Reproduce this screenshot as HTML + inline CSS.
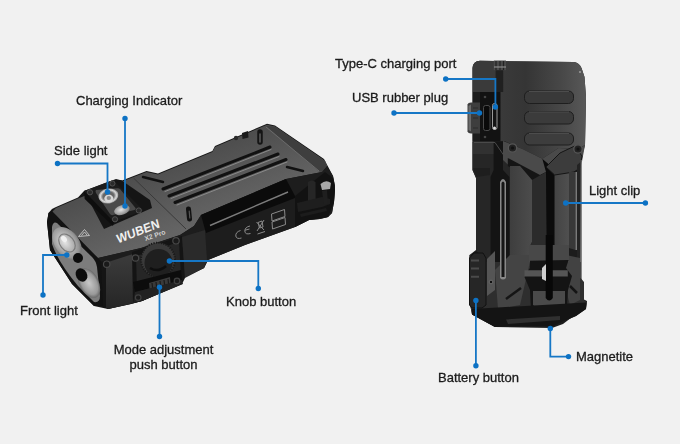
<!DOCTYPE html>
<html><head><meta charset="utf-8">
<style>
html,body{margin:0;padding:0;}
body{width:680px;height:444px;overflow:hidden;background:#f1f1f1;position:relative;font-family:"Liberation Sans",sans-serif;}
svg{position:absolute;left:0;top:0;}
.t{position:absolute;font-size:13px;line-height:15px;color:#1b1b1b;white-space:nowrap;-webkit-text-stroke:0.3px #1b1b1b;will-change:transform;}
</style></head><body>
<svg width="680" height="444" viewBox="0 0 680 444">
<defs>
<linearGradient id="topG" gradientUnits="userSpaceOnUse" x1="150" y1="150" x2="180" y2="230">
<stop offset="0" stop-color="#474747"/><stop offset="1" stop-color="#646464"/>
</linearGradient>
<radialGradient id="lensW" cx="0.45" cy="0.45" r="0.6">
<stop offset="0" stop-color="#e6e6e6"/><stop offset="0.35" stop-color="#c0c0c0"/><stop offset="0.8" stop-color="#939393"/><stop offset="1" stop-color="#6a6a6a"/>
</radialGradient>
<radialGradient id="lensG" cx="0.5" cy="0.5" r="0.55">
<stop offset="0" stop-color="#c8c8c8"/><stop offset="0.7" stop-color="#9a9a9a"/><stop offset="1" stop-color="#555"/>
</radialGradient>
<linearGradient id="panelG" gradientUnits="userSpaceOnUse" x1="0" y1="258" x2="0" y2="308">
<stop offset="0" stop-color="#3a3a3a"/><stop offset="1" stop-color="#262626"/>
</linearGradient>
<radialGradient id="refl" cx="0.5" cy="0.5" r="0.5">
<stop offset="0" stop-color="#555"/><stop offset="0.55" stop-color="#6a6a6a"/><stop offset="0.8" stop-color="#d8d8d8"/><stop offset="1" stop-color="#9a9a9a"/>
</radialGradient>
<linearGradient id="houseG" gradientUnits="userSpaceOnUse" x1="500" y1="0" x2="586" y2="0">
<stop offset="0" stop-color="#3a3a3a"/><stop offset="0.3" stop-color="#353535"/><stop offset="0.7" stop-color="#474747"/><stop offset="1" stop-color="#585858"/>
</linearGradient>
<linearGradient id="midG" gradientUnits="userSpaceOnUse" x1="510" y1="0" x2="532" y2="0">
<stop offset="0" stop-color="#3e3e3e"/><stop offset="1" stop-color="#4c4c4c"/>
</linearGradient>
<linearGradient id="prongG" gradientUnits="userSpaceOnUse" x1="555" y1="0" x2="572" y2="0">
<stop offset="0" stop-color="#444"/><stop offset="1" stop-color="#525252"/>
</linearGradient>
</defs>

<!-- LEFT FLASHLIGHT -->
<g id="left">
<!-- silhouette -->
<path d="M47,222 L48.5,213 L52,209 L56,207 L78,197.5 L84,191 L116,179 L122,180.6 L146.5,171 L158,173.5 L212.4,151 L215,146 L267,123.8 L275,125.5 L324,159 L333,176 L335,186 L334,202 L332,213 L328,217 L320,219 L309,220 L295,227 L245,245 L208,260 L204,268 L183,278 L182,284 L142,301 L131,304 L108,309 L94,306 L72,284 L50,250 Z" fill="#161616"/>
<!-- top face -->
<path d="M52,212 L56,208 L78,198.5 L122,181.5 L146.5,172 L158,174.5 L212.4,152 L215,147 L267,124.8 L275,126.5 L325,161 L327,166 L322,172 L286,179 L201,215 L194,226 L180,235 L141,248 L98,258 L52,220 Z" fill="url(#topG)"/>
<path d="M266,126 L275,126.5 L325,161 L327,166 L322,172 L319,171.5 Z" fill="#3e3e3e"/>
<path d="M266,127 L319,171" stroke="#6a6a6a" stroke-width="1"/>
<path d="M133.5,178 L186,229" stroke="#3a3a3a" stroke-width="1"/>
<!-- slots -->
<g stroke-linecap="round">
<path d="M163,189 L270,147" stroke="#111" stroke-width="3"/>
<path d="M165,191.5 L271,149.5" stroke="#8a8a8a" stroke-width="1"/>
<path d="M169,196 L278,154" stroke="#111" stroke-width="3"/>
<path d="M171,198.5 L279,156.5" stroke="#8a8a8a" stroke-width="1"/>
<path d="M175,202.5 L286,159.5" stroke="#111" stroke-width="3"/>
<path d="M177,205 L287,162" stroke="#8a8a8a" stroke-width="1"/>
<path d="M143,177 L163,182" stroke="#111" stroke-width="2.5"/>
<path d="M287,167 L303,171" stroke="#111" stroke-width="2.5"/>
<path d="M188.5,209 L189.5,219" stroke="#111" stroke-width="5"/>
<path d="M189.2,211 L189.8,218" stroke="#555" stroke-width="1.2"/>
<path d="M260,132 L260,142" stroke="#151515" stroke-width="5.5"/>
<path d="M260,134 L260,142" stroke="#5a5a5a" stroke-width="1.5"/>
<path d="M242,133 L248,131 L248.5,137.5 L242.5,139 Z" fill="#1a1a1a" stroke="none"/>
<circle cx="236" cy="138" r="2.2" fill="#2a2a2a" stroke="none"/>
</g>
<!-- side face -->
<path d="M98,258 L141,248 L180,235 L194,226 L201,215 L286,179 L322,172 L327,166 L333,176 L335,186 L334,202 L332,213 L328,217 L320,219 L309,220 L295,227 L245,245 L208,260 L204,268 L183,278 L182,284 L142,301 L131,304 L108,309 L103,306 Z" fill="#1d1d1d"/>
<!-- strip -->
<path d="M201,215 L286,179 L295,196 L295,198 L206,233 Z" fill="#0b0b0b"/>
<path d="M210,225.5 L288,192" stroke="#7c7c7c" stroke-width="1.4"/>
<!-- CE marks -->
<g fill="none" stroke="#8a8a8a" stroke-width="1">
<path d="M240.5,230.5 Q235.5,232 235.8,236 Q236.5,239.5 241.5,238"/>
<path d="M250,226 Q245,227 244.8,231 Q245,235 250.5,233.5 M245,230.2 L249.5,229"/>
<path d="M256.5,222 L264,230 M264,220 L257,231 M258,222.5 L262,221 L263,227 L259.5,228 Z M257.5,234 L265,231.5"/>
<path d="M271.5,214 L284.5,209.5 L285,216.5 L272,221 Z M272,222 L285,217.5 L285.5,224.5 L272.5,229 Z"/>
</g>
<!-- rear details -->
<path d="M295,196 L325,172 L333,178 L335,190 L334,202 L328,217 L309,220 L295,227 Z" fill="#121212"/>
<path d="M308,182 Q311.5,179 315.5,182 L315.7,202 L308,204 Z" fill="#262626"/>
<path d="M297,203 L322,197 L330,199 L330,204 L322,207 L298,212 Z" fill="#1e1e1e"/>
<path d="M300,214 L326,208 L327,211 L301,217 Z" fill="#1c1c1c"/>
<path d="M320.5,184 Q326,179 331,183 L330,189 L322,190 Z" fill="#a8a8a8"/>
<path d="M322,191 L324,205 L328,204 L327,190 Z" fill="#1f1f1f"/>
<!-- front lens bezel -->
<path d="M47,222 L48.5,213 L52,211 L98,258 L104,264 L104,306 L94,306 L72,284 L50,250 Z" fill="#121212"/>
<path d="M52,227 Q53,221 57,223 L92,257 Q96,261 97,267 L100,296 Q100,303 94,302 L78,286 Q58,262 52,244 Z" fill="#7c7c7c"/>
<ellipse cx="67" cy="243" rx="12" ry="18" transform="rotate(-38 67 243)" fill="url(#lensW)"/>
<ellipse cx="67" cy="243" rx="7" ry="10" transform="rotate(-38 67 243)" fill="none" stroke="#7a7a7a" stroke-width="1.2"/>
<ellipse cx="64" cy="239" rx="2.5" ry="3.5" transform="rotate(-38 64 239)" fill="#f0f0f0"/>
<ellipse cx="89" cy="283" rx="9.5" ry="16" transform="rotate(-28 89 283)" fill="url(#lensG)"/>
<circle cx="78" cy="258" r="5" fill="#0c0c0c"/>
<ellipse cx="81.5" cy="275" rx="5.5" ry="7" transform="rotate(-30 81.5 275)" fill="#0c0c0c"/>
<path d="M78.5,236.5 L84.5,229.5 L89.5,235.5 Z M81.5,235.5 L84.5,232 L87,235" fill="none" stroke="#c8c8c8" stroke-width="0.9"/>
<!-- logo -->
<g transform="translate(118,243.5) rotate(-21) skewX(-6)"><text x="0" y="0" font-family="Liberation Sans" font-weight="bold" font-size="12.5" fill="#f0f0f0" letter-spacing="0.1" transform="scale(0.95,1)">WUBEN</text></g>
<g transform="translate(145.5,241) rotate(-19)"><text x="0" y="0" font-family="Liberation Sans" font-weight="bold" font-size="6.8" fill="#d0d0d0">X2 Pro</text></g>
<!-- side light box -->
<path d="M104,229 L152,208 L150,200 L121,180 L84,191 Z" fill="#151515"/>
<path d="M84,191 L113,180 L143.5,210.5 L113.8,222 Z" fill="#1c1c1c"/>
<path d="M84,191 L84.7,199 L113,226 L113.8,222 Z" fill="#0e0e0e"/>
<path d="M96,190 Q95,191 96,193 L110,214 Q111,215.5 113,215 L134.5,210 Q136.5,209.5 135.5,208 L120,189 Q119,188 117,188.3 Z" fill="#4a4a4a"/>
<ellipse cx="108.4" cy="196" rx="10" ry="7.5" transform="rotate(-10 108.4 196)" fill="url(#refl)"/>
<ellipse cx="108.8" cy="198.5" rx="4.5" ry="4" fill="#d8d8d8"/>
<ellipse cx="108.8" cy="198" rx="2.2" ry="2" fill="#8a8a8a"/>
<ellipse cx="122" cy="210" rx="8" ry="4.8" transform="rotate(-18 122 210)" fill="url(#lensW)"/>
<circle cx="90" cy="192.3" r="2.6" fill="#2a2a2a" stroke="#5a5a5a" stroke-width="0.8"/>
<circle cx="112.4" cy="183.5" r="2.6" fill="#2a2a2a" stroke="#5a5a5a" stroke-width="0.8"/>
<circle cx="138.8" cy="210.5" r="2.6" fill="#2a2a2a" stroke="#5a5a5a" stroke-width="0.8"/>
<circle cx="115" cy="219.3" r="2.6" fill="#2a2a2a" stroke="#5a5a5a" stroke-width="0.8"/>
<!-- knob module -->
<path d="M102,264 L133,254 L133,303 L108,309 L104,306 Z" fill="url(#panelG)"/>
<path d="M101,262 L106,260 L106,308 L103,306 Z" fill="#151515"/>
<circle cx="106.7" cy="264.2" r="3.2" fill="#1a1a1a" stroke="#484848" stroke-width="1.2"/>
<path d="M132,252 L182,236 L185,278 L183,282 L142,301 L133,303 Z" fill="#141414"/>
<path d="M136,256 L179,242 L181,276 L137,290 Z" fill="#262626"/>
<path d="M182,237 L205,230 L207,260 L204,268 L185,278 Z" fill="#2a2a2a"/>
<circle cx="158" cy="259.7" r="17" fill="#3a3a3a"/>
<circle cx="158" cy="259.7" r="17" fill="none" stroke="#1a1a1a" stroke-width="2" stroke-dasharray="1.2 1.3"/>
<circle cx="158.5" cy="263" r="14" fill="#1f1f1f"/>
<path d="M150,268 Q158,273 166,266" stroke="#0e0e0e" stroke-width="2.5" fill="none"/>
<path d="M133,282 L181,270 L182,280 L135,292 Z" fill="#0c0c0c"/>
<path d="M149,283 L170,277 L171,288 L150,292 Z" fill="#3a3a3a"/>
<path d="M152,283 L153,291 M156,282 L157,290 M160,281 L161,289 M164,280 L165,288 M168,279 L169,287" stroke="#1a1a1a" stroke-width="1.2"/>
<path d="M135,292 L182,280 L183,284 L142,301 L133,303 Z" fill="#222"/>
<circle cx="135.5" cy="258" r="3.2" fill="#1a1a1a" stroke="#484848" stroke-width="1.2"/>
<circle cx="176" cy="240.8" r="3.2" fill="#1a1a1a" stroke="#484848" stroke-width="1.2"/>
<circle cx="138.2" cy="297.6" r="2.8" fill="#1a1a1a" stroke="#404040" stroke-width="1.2"/>
<circle cx="177" cy="281" r="2.8" fill="#1a1a1a" stroke="#404040" stroke-width="1.2"/>
</g>
<!-- RIGHT FLASHLIGHT -->
<g id="right">
<!-- silhouette -->
<path d="M472.5,68 Q473,61 480,60.8 L573.5,62 Q579,62.5 581.5,68 L584.5,77 L586,97 L585,145 L581,160 L580,290 L582,298.5 L587,301 L586,308 L573.5,316 L563,324 L552,328 L495,327 L472,314.6 L470.5,306.5 L469.5,255 L476,250 L476,178 L472.5,170 L472.5,141.5 Z" fill="#1c1c1c"/>
<!-- upper housing -->
<path d="M472.5,68 Q473,61 480,60.8 L573.5,62 Q579,62.5 581.5,68 L584.5,77 L586,97 L585,145 L578,149 L558.5,148 L542.3,158.8 L522.4,148.9 L504.4,141 L472.5,141 Z" fill="url(#houseG)"/>
<path d="M473,92 L480,92 L480,141 L473,141 Z" fill="#1c1c1c"/>
<path d="M495.6,70 L503.2,70 L503.2,92 L495.6,92 Z" fill="#202020"/>
<path d="M493.7,60.5 L506,60.5 L506,70.2 L493.7,70.2 Z" fill="#4a4a4a"/>
<path d="M496,61 L496,70 M500,61 L500,70 M503.5,61 L503.5,70" stroke="#222" stroke-width="1.2"/>
<path d="M494,67 L506,67" stroke="#8a8a8a" stroke-width="1.2"/>
<circle cx="580" cy="72" r="1.1" fill="#999"/>
<!-- ribs -->
<rect x="524.5" y="91" width="49" height="12.5" rx="5" fill="#393939" stroke="#1e1e1e" stroke-width="1"/>
<path d="M529,91.5 L569,91.5" stroke="#4c4c4c" stroke-width="1"/>
<rect x="524.5" y="111.5" width="49" height="12.5" rx="5" fill="#3b3b3b" stroke="#1e1e1e" stroke-width="1"/>
<path d="M529,112 L569,112" stroke="#4c4c4c" stroke-width="1"/>
<rect x="524.5" y="133" width="49" height="12" rx="5" fill="#3d3d3d" stroke="#1e1e1e" stroke-width="1"/>
<path d="M529,133.5 L569,133.5" stroke="#4c4c4c" stroke-width="1"/>
<!-- port area -->
<path d="M480,92 L500.5,92 L500.5,142 L480,142 Z" fill="#121212"/>
<path d="M467.5,104.5 Q468,102.5 471,102.5 L480,102.5 L480,133.5 L471,133.5 Q468,133.5 467.5,131.5 Z" fill="#3e3e3e"/>
<path d="M468.5,106 L471,104.5 L471,131.5 L468.5,130 Z" fill="#6a6a6a"/>
<path d="M473,108 L478,108 M473,118 L478,118 M473,128 L478,128" stroke="#2a2a2a" stroke-width="1"/>
<rect x="483.5" y="105.5" width="6.5" height="25" rx="2" fill="#0a0a0a" stroke="#4a4a4a" stroke-width="1"/>
<rect x="492.5" y="103.5" width="4.5" height="26" rx="2" fill="#141414" stroke="#9a9a9a" stroke-width="1"/>
<circle cx="494.5" cy="128" r="1.5" fill="#ddd"/>
<circle cx="485" cy="97" r="1.3" fill="#444"/><circle cx="485" cy="137" r="1.3" fill="#444"/>
<!-- left rail -->
<path d="M472.5,141.5 L503,141.5 L510,162 L510,262 L485,262 L476,250 L476,178 L472.5,170 Z" fill="#262626"/>
<path d="M473,168 L490,168 L490,175 L476.5,177 Z" fill="#1e1e1e"/>
<path d="M473,141.5 L494,141.5 L494,154 L473,154 Z" fill="#313131"/>
<path d="M493.6,141.5 L503,141.5 L503,170 L509.4,177 L509.4,265 L490.5,265 L490.5,177 L493.6,170 Z" fill="#141414"/>
<!-- plate under housing -->
<path d="M503,141 L522.4,148.9 L542.3,158.8 L548,155 L558.5,148 L578,149 L585,145 L581.9,162 L574.7,151.6 L562,155.2 L549.5,165 L546,172 L532,180 L520,166 L509.4,166 L503,160 Z" fill="#4a4a4a"/>
<path d="M507.8,158 L540,175 L546,172 L546,180 L540,182 L532,180 L507.8,166 Z" fill="#151515"/>
<!-- gray surface left -->
<path d="M510,166 L520,166 L532,180 L532,242 L529,248 L529,265 L510,265 Z" fill="url(#midG)"/>
<!-- dark band -->
<path d="M532,180 L546,172 L547,265 L529,265 L529,248 L532,242 Z" fill="#2b2b2b"/>
<!-- center black -->
<path d="M542.3,158.8 L549.5,165 L554.6,175 L554.6,262 L547,262 L546,172 Z" fill="#0b0b0b"/>
<!-- right prong -->
<path d="M554.6,172 L572,172 L572,242 L569,248 L569,262 L554.6,262 Z" fill="url(#prongG)"/>
<path d="M546,167 L560,153 L574.7,146 L582,156 L580,168 L574,172 L554.6,175 Z" fill="#3c3c3c" stroke="#151515" stroke-width="1"/>
<path d="M569,172 L575.5,172 L575.5,250 L569,248 Z" fill="#383838"/>
<path d="M575.5,172 L577.5,172 L577.5,250 L575.5,250 Z" fill="#7a7a7a"/>
<path d="M577,165 L580.6,162 L580.6,282 L577,280 Z" fill="#232323"/>
<path d="M580.6,160 L581.8,160 L581.8,280 L580.6,280 Z" fill="#6a6a6a"/>
<!-- bottom section -->
<path d="M485,262 L510,262 L529,265 L569,262 L580.6,262 L580.6,278 L584,282 L584,300 L587,302.6 L586,309 L576,316 L562.6,321.7 L553.6,326.2 L495,327 L472,314.6 L470.5,306.5 L469.5,255 Z" fill="#2e2e2e"/>
<path d="M510,255 L530,255 L530,262 L520,305 L498,309 L495,270 Z" fill="#444"/>
<path d="M566,255 L580,258 L580,300 L570,305 L566,290 Z" fill="#424242"/>
<path d="M529,245 L569,245 L569,262 L529,262 Z" fill="#484848"/>
<path d="M506,299 L521,288" stroke="#151515" stroke-width="2.5"/>
<path d="M570,286 L577,293" stroke="#151515" stroke-width="2.5"/>
<!-- clip tip -->
<path d="M530,260.8 L568.6,260 L566,268 L572,276 L568,290 L567,306.5 L561,311 L536,311 L530.8,306.5 L530,290 L524.5,277 L530,268 Z" fill="#141414"/>
<path d="M524.5,270.2 L567.8,270.2 L567.8,276.5 L524.5,276.5 Z" fill="#555"/>
<path d="M533,291 L565,291 L565,305 L560,308 L537,308 L533,305 Z" fill="#4a4a4a"/>
<path d="M545.7,235 L552.8,235 L552.8,298 Q549.2,303 545.7,298 Z" fill="#080808"/>
<path d="M542,268 L546,264 L546,281 L542,279 Z" fill="#cfcfcf"/>
<!-- lower band -->
<path d="M472,309 L586,302.6 L586,309 L576,316 L562.6,321.7 L553.6,326.2 L495,327 L472,314.6 Z" fill="#141414"/>
<path d="M506,319.5 L560,316 L560,320 L508,324 Z" fill="#303030"/>
<!-- battery button -->
<path d="M469.5,258 L474,253 L483,253 L486,258 L486,305 L482,308 L472,308 L469.5,305 Z" fill="#262626" stroke="#111" stroke-width="1"/>
<path d="M471,260.5 L479,260.5 M471,268.5 L479,268.5 M471,276.8 L479,276.8" stroke="#4a4a4a" stroke-width="2"/>
<path d="M487,259 L495,251 L495,290 L487,296 Z" fill="#555"/>
<path d="M500,182 Q503,176 506,182 L506,278 Q503,281 500,278 Z" fill="#888"/>
<path d="M501.5,183 Q503,180 504.5,183 L504.5,277 L501.5,277 Z" fill="#161616"/>
<circle cx="491" cy="282" r="1.8" fill="#111" stroke="#777" stroke-width="0.8"/>
<circle cx="512.5" cy="148" r="4.2" fill="#222" stroke="#555" stroke-width="1.3"/>
<circle cx="512.5" cy="148" r="1.6" fill="#111"/>
<circle cx="578" cy="149" r="4.2" fill="#222" stroke="#555" stroke-width="1.3"/>
<circle cx="578" cy="149" r="1.6" fill="#111"/>
<path d="M474,142.5 L495,142.5 L507,160" stroke="#4a4a4a" stroke-width="1" fill="none"/>
</g>

<!-- CALLOUT LINES -->
<g stroke="#1677c6" stroke-width="1.8" fill="none">
<path d="M125,118 V206"/>
<path d="M57.5,163.5 H107.5 V192"/>
<path d="M66.8,255 H43 V295"/>
<path d="M169.4,261 H258.3 V288.5"/>
<path d="M159.5,287.3 V336.5"/>
<path d="M445.7,79 H495.4 V107"/>
<path d="M394,113 H479.5"/>
<path d="M565.7,203 H645.4"/>
<path d="M550.3,328.5 V356.6 H568.5"/>
<path d="M475.9,300.5 V365.7"/>
</g>
<g fill="#0d72c4">
<circle cx="125" cy="118.4" r="2.7"/><circle cx="125" cy="206" r="2.7"/>
<circle cx="57.5" cy="163.5" r="2.7"/><circle cx="107.5" cy="192" r="2.7"/>
<circle cx="66.8" cy="255" r="2.7"/><circle cx="43" cy="295" r="2.7"/>
<circle cx="169.4" cy="261" r="2.7"/><circle cx="258.3" cy="288.5" r="2.7"/>
<circle cx="159.5" cy="287.3" r="2.7"/><circle cx="159.5" cy="336.5" r="2.7"/>
<circle cx="445.7" cy="79" r="2.7"/><circle cx="495.4" cy="107" r="2.7"/>
<circle cx="394" cy="113" r="2.7"/><circle cx="479.5" cy="113" r="2.7"/>
<circle cx="565.7" cy="203" r="2.7"/><circle cx="645.4" cy="203" r="2.7"/>
<circle cx="550.3" cy="328.5" r="2.7"/><circle cx="568.5" cy="356.6" r="2.7"/>
<circle cx="475.9" cy="300.5" r="2.7"/><circle cx="475.9" cy="365.7" r="2.7"/>
</g>
</svg>

<div class="t" style="left:76px;top:93px">Charging Indicator</div>
<div class="t" style="left:54px;top:143px">Side light</div>
<div class="t" style="left:20px;top:303px">Front light</div>
<div class="t" style="left:226px;top:294px">Knob button</div>
<div class="t" style="left:113px;top:342px;text-align:center;width:101px">Mode adjustment<br>push button</div>
<div class="t" style="left:335px;top:56px">Type-C charging port</div>
<div class="t" style="left:352px;top:90px">USB rubber plug</div>
<div class="t" style="left:589px;top:183px">Light clip</div>
<div class="t" style="left:576px;top:349px">Magnetite</div>
<div class="t" style="left:438px;top:370px">Battery button</div>
</body></html>
